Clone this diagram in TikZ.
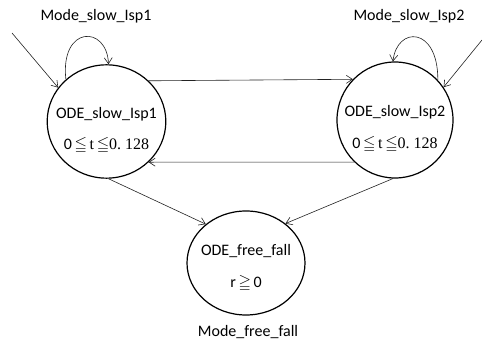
\documentclass[tikz,border=0pt]{standalone}
\usepackage{amssymb}
\usepackage{fontspec}
\setmainfont{Carlito}
\newfontfamily\serifnum{Liberation Serif}
\usetikzlibrary{shapes.geometric,arrows.meta,positioning}
\definecolor{linegray}{HTML}{222222}
\newcommand{\modetext}[3]{\rule{0pt}{#3}\makebox[0pt]{#1}\\[9.5pt]\makebox[0pt]{#2}}

\begin{document}
\begin{tikzpicture}[x=0.75pt, y=-0.75pt,
  mode/.style={draw=black, line width=0.9pt, ellipse, inner sep=0pt, align=center, font=\fontsize{12}{14}\selectfont},
  trans/.style={draw=linegray, line width=0.45pt, -{Straight Barb[length=4.5pt,width=6pt]}},
  modename/.style={font=\fontsize{12}{14}\selectfont}]
\useasboundingbox (0,0) rectangle (482,345);

\node[mode, minimum width=89pt, minimum height=85pt] (slow1) at (106.5,121.5) {\modetext{ODE\_slow\_Isp1}{0\,$\leqq$\,{\serifnum t}\,$\leqq${\serifnum 0.\ 128}}{22pt}};
\node[mode, minimum width=87pt, minimum height=87pt] (slow2) at (395,120) {\modetext{ODE\_slow\_Isp2}{0\,$\leqq$\,{\serifnum t}\,$\leqq${\serifnum 0.\ 128}}{22pt}};
\node[mode, minimum width=88.5pt, minimum height=78pt] (fall) at (246,263) {\modetext{ODE\_free\_fall}{r\,$\geqq$\,0}{16pt}};

\node[modename] (name1) at (96,16) {Mode\_slow\_Isp1};
\node[modename] (name2) at (409,16) {Mode\_slow\_Isp2};
\node[modename] (name3) at (248,332) {Mode\_free\_fall};

\coordinate (init1) at (12,33);
\coordinate (init2) at (482,40);

\draw[trans] (init1) -- (slow1.145);
\draw[trans] (init2) -- (slow2.34);

\draw[trans] (slow1.134) .. controls (60,25) and (107,25) .. (slow1.88);
\draw[trans] (slow2.43) .. controls (438,26) and (397,26) .. (slow2.92);

\draw[trans] (slow1.44) -- (slow2.136);
\draw[trans] (slow2.-134) -- (slow1.-44);
\draw[trans] (slow1.-88) -- (fall.136);
\draw[trans] (slow2.-92) -- (fall.45);
\end{tikzpicture}
\end{document}
